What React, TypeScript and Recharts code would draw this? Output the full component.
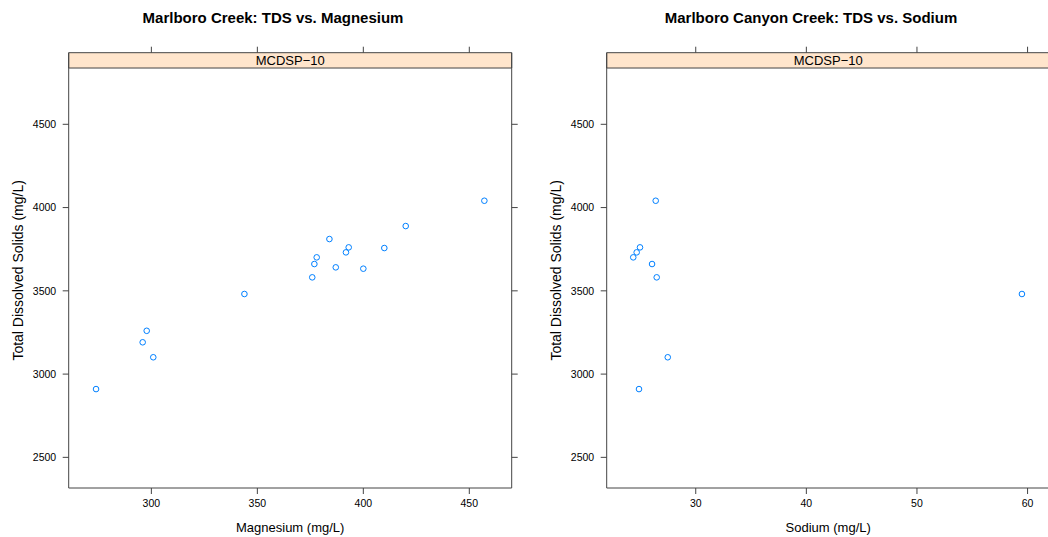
import React from "react";
import { ScatterChart, Scatter, XAxis, YAxis, ReferenceArea, ReferenceLine } from "recharts";

// Marlboro Creek, MCDSP-10
const magnesium = [273.9, 295.9, 297.8, 300.9, 343.9, 375.9, 376.9, 378.0, 384.0, 387.0, 391.8, 393.1, 400.0, 409.9, 420.0, 457.1];
const tdsVsMg = [2910, 3191, 3260, 3101, 3481, 3581, 3661, 3701, 3811, 3641, 3731, 3761, 3633, 3757, 3889, 4041];

// Marlboro Canyon Creek, MCDSP-10
const sodium = [26.38, 24.96, 24.66, 24.35, 26.05, 26.47, 59.49, 27.47, 24.87];
const tdsVsNa = [4041, 3761, 3731, 3701, 3661, 3581, 3481, 3101, 2910];

const tdsTicks = [2500, 3000, 3500, 4000, 4500];
const mgTicks = [300, 350, 400, 450];
const naTicks = [30, 40, 50, 60];
const stripLabel = "MCDSP\u221210";

const tdsDomain: [number, number] = [2316, 4930];
const stripRange: [number, number] = [4838, 4930];
// top tick marks sit above the strip, outside the panel
const topTickRange: [number, number] = [4930, 4966];
const mgDomain: [number, number] = [261, 470];
const naDomain: [number, number] = [21.95, 62.0];

const LINE = "#444";
const POINT = "#0080ff";
const FONT = "'Liberation Sans', Arial, Helvetica, sans-serif";

const openCircle = (p: any) => (
  <circle cx={p.cx} cy={p.cy} r={2.8} fill="none" stroke={POINT} strokeWidth={1} />
);

// tick marks only, no labels (right side of the panel)
const noLabel = () => <g />;

interface PanelProps {
  title: string;
  xLabel: string;
  xs: number[];
  ys: number[];
  xDomain: [number, number];
  xTicks: number[];
  left: number;
}

const Panel: React.FC<PanelProps> = ({ title, xLabel, xs, ys, xDomain, xTicks, left }) => {
  const data = xs.map((x, i) => ({ x, y: ys[i] }));

  const xTitle = (props: any) => {
    const vb = props.viewBox;
    return (
      <text x={vb.x + vb.width / 2} y={531.5} textAnchor="middle" fontSize={13} fill="#000">
        {xLabel}
      </text>
    );
  };

  const yTitle = (props: any) => {
    const vb = props.viewBox;
    const cx = 18;
    const cy = vb.y + vb.height / 2;
    return (
      <text
        x={cx}
        y={cy}
        transform={`rotate(-90 ${cx} ${cy})`}
        textAnchor="middle"
        dominantBaseline="central"
        fontSize={14}
        fill="#000"
      >
        Total Dissolved Solids (mg/L)
      </text>
    );
  };

  return (
    <div style={{ position: "absolute", left, top: 0, width: 546, height: 537 }}>
      <div
        style={{
          position: "absolute",
          left: 0,
          top: 9,
          width: 546,
          textAlign: "center",
          fontWeight: "bold",
          fontSize: 15,
          lineHeight: "17px",
          color: "#000"
        }}
      >
        {title}
      </div>
      <ScatterChart width={546} height={537} margin={{ top: 52.7, right: 24.3, bottom: 19, left: 28.7 }}>
        <ReferenceArea
          y1={stripRange[0]}
          y2={stripRange[1]}
          fill="#ffe5cc"
          fillOpacity={1}
          stroke={LINE}
          strokeWidth={1}
          ifOverflow="visible"
          label={{ value: stripLabel, position: "center", fontSize: 13, fill: "#000" }}
        />
        {xTicks.map((t) => (
          <ReferenceLine
            key={t}
            segment={[
              { x: t, y: topTickRange[0] },
              { x: t, y: topTickRange[1] }
            ]}
            stroke={LINE}
            strokeWidth={1}
            ifOverflow="visible"
          />
        ))}
        <XAxis
          dataKey="x"
          type="number"
          domain={xDomain}
          ticks={xTicks}
          allowDataOverflow
          height={30}
          tickSize={6}
          tickMargin={6}
          axisLine={{ stroke: LINE }}
          tickLine={{ stroke: LINE }}
          tick={{ fontSize: 10.5, fill: "#000" }}
          label={xTitle}
        />
        <YAxis
          dataKey="y"
          type="number"
          domain={tdsDomain}
          ticks={tdsTicks}
          allowDataOverflow
          width={40}
          tickSize={6}
          tickMargin={6.5}
          axisLine={{ stroke: LINE }}
          tickLine={{ stroke: LINE }}
          tick={{ fontSize: 10.5, fill: "#000" }}
          label={yTitle}
        />
        <YAxis
          yAxisId="right"
          orientation="right"
          type="number"
          domain={tdsDomain}
          ticks={tdsTicks}
          allowDataOverflow
          width={10}
          tickSize={6}
          axisLine={{ stroke: LINE }}
          tickLine={{ stroke: LINE }}
          tick={noLabel}
        />
        <Scatter data={data} shape={openCircle} isAnimationActive={false} />
      </ScatterChart>
    </div>
  );
};

export default function App() {
  return (
    <div
      style={{
        position: "absolute",
        left: 0,
        top: 0,
        width: 1048,
        height: 537,
        overflow: "hidden",
        background: "#fff",
        fontFamily: FONT
      }}
    >
      <Panel
        title="Marlboro Creek: TDS vs. Magnesium"
        xLabel="Magnesium (mg/L)"
        xs={magnesium}
        ys={tdsVsMg}
        xDomain={mgDomain}
        xTicks={mgTicks}
        left={0}
      />
      <Panel
        title="Marlboro Canyon Creek: TDS vs. Sodium"
        xLabel="Sodium (mg/L)"
        xs={sodium}
        ys={tdsVsNa}
        xDomain={naDomain}
        xTicks={naTicks}
        left={538}
      />
    </div>
  );
}
